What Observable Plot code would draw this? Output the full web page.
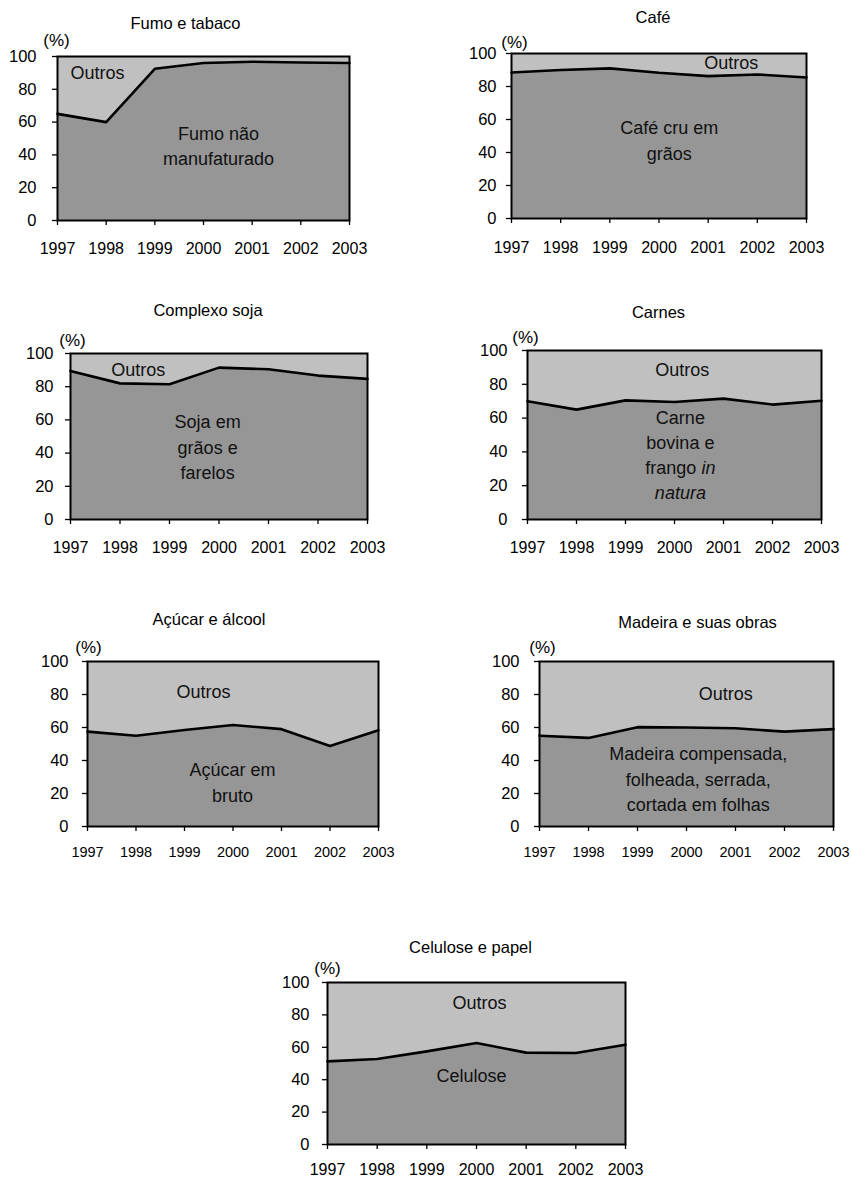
<!DOCTYPE html>
<html><head><meta charset="utf-8">
<script src="https://cdn.jsdelivr.net/npm/d3@7"></script>
<script src="https://cdn.jsdelivr.net/npm/@observablehq/plot@0.6"></script>
<style>
body{margin:0;background:#fff;overflow:hidden}
#root{position:relative;width:852px;height:1180px;font-family:"Liberation Sans",Arial,sans-serif}
#root svg{position:absolute}
</style></head>
<body><div id="root"></div>
<script>
const years = [1997, 1998, 1999, 2000, 2001, 2002, 2003];
const yTicks = [0, 20, 40, 60, 80, 100];

// share (%) of the main product in each group
const fumo     = [65, 60, 92.5, 96, 96.8, 96.3, 96];
const cafe     = [88.5, 90, 91, 88.3, 86.3, 87.3, 85.5];
const soja     = [89.5, 82, 81.5, 91.5, 90.5, 86.7, 84.7];
const carnes   = [70, 65, 70.5, 69.5, 71.5, 68, 70.3];
const acucar   = [57.5, 55, 58.5, 61.5, 59, 48.8, 58.3];
const madeira  = [55, 53.7, 60.2, 60, 59.5, 57.5, 59];
const celulose = [51.3, 52.8, 57.5, 62.7, 56.7, 56.5, 61.6];

const titles = ["Fumo e tabaco", "Café", "Complexo soja", "Carnes", "Açúcar e álcool", "Madeira e suas obras", "Celulose e papel"];
const otherLabel = "Outros";
const mainLabels = [
  "Fumo não\nmanufaturado",
  "Café cru em\ngrãos",
  "Soja em\ngrãos e\nfarelos",
  null,
  "Açúcar em\nbruto",
  "Madeira compensada,\nfolheada, serrada,\ncortada em folhas",
  "Celulose"
];
const carnesLines = ["Carne", "bovina e", "frango", "in", "natura"];

const FONT = '"Liberation Sans", Arial, sans-serif';

const panels = [
  {values: fumo, frame: [57, 56, 349, 220], tdx: -18, tdy: -33, pdx: -1, pdy: -16, yPad: 16, xPad: 17, xFont: 16,
   outros: [1997.82, 89.6], main: [2000.31, 46.3], lh: 1.4},
  {values: cafe, frame: [511, 53, 806, 218], tdx: -6, tdy: -36, pdx: 3, pdy: -11, yPad: 10, xPad: 18, xFont: 16,
   outros: [2001.47, 93.9], main: [2000.21, 48.5], lh: 1.45},
  {values: soja, frame: [70, 353, 367, 519], tdx: -11, tdy: -43, pdx: 2, pdy: -13, yPad: 12, xPad: 17, xFont: 16,
   outros: [1998.37, 89.8], main: [1999.77, 44.6], lh: 1.42},
  {values: carnes, frame: [527, 350, 821, 519], tdx: -16, tdy: -38, pdx: -2, pdy: -13, yPad: 15, xPad: 17, xFont: 16,
   outros: [2000.16, 88.2], main: [2000.12, 37.6], lh: 1.4},
  {values: acucar, frame: [87, 661, 378, 826], tdx: -24, tdy: -42, pdx: 1, pdy: -14, yPad: 14, xPad: 15, xFont: 14.5,
   outros: [1999.39, 81.2], main: [1999.99, 27.9], lh: 1.45},
  {values: madeira, frame: [539, 661, 833, 826], tdx: 11, tdy: -39, pdx: 3, pdy: -14, yPad: 15, xPad: 15, xFont: 14.5,
   outros: [2000.8, 80], main: [2000.24, 29.7], lh: 1.4},
  {values: celulose, frame: [327, 982, 625, 1144], tdx: -6, tdy: -35, pdx: 0, pdy: -14, yPad: 13, xPad: 14, xFont: 16,
   outros: [2000.06, 87], main: [1999.9, 43.8], lh: 1.4}
];

const root = document.getElementById("root");

panels.forEach((cfg, idx) => {
  const ML = 60, MT = 55, MR = 22;
  const [l, t, r, b] = cfg.frame;
  const MB = Math.min(40, 1180 - b);
  const data = years.map((yr, i) => ({year: yr, v: cfg.values[i]}));
  const labelMarks = [
    Plot.text([{x: cfg.outros[0], y: cfg.outros[1], text: otherLabel}], {x: "x", y: "y", text: "text", fontSize: 18, fill: "#111"})
  ];
  if (mainLabels[idx]) {
    labelMarks.push(Plot.text([{x: cfg.main[0], y: cfg.main[1], text: mainLabels[idx]}],
      {x: "x", y: "y", text: "text", fontSize: 18, lineHeight: cfg.lh, lineAnchor: "middle", fill: "#111"}));
  } else {
    const pt = [{x: cfg.main[0], y: cfg.main[1]}];
    const sp = 25;
    const spec = [
      {t: carnesLines[0], dy: -1.5 * sp, dx: 0, a: "middle", it: false},
      {t: carnesLines[1], dy: -0.5 * sp, dx: 0, a: "middle", it: false},
      {t: carnesLines[2], dy: 0.5 * sp, dx: 16, a: "end", it: false},
      {t: carnesLines[3], dy: 0.5 * sp, dx: 21, a: "start", it: true},
      {t: carnesLines[4], dy: 1.5 * sp, dx: 0, a: "middle", it: true}
    ];
    spec.forEach(s => labelMarks.push(Plot.text(pt, {x: "x", y: "y", text: () => s.t, dx: s.dx, dy: s.dy,
      textAnchor: s.a, fontStyle: s.it ? "italic" : "normal", fontSize: 18, fill: "#111"})));
  }
  const svg = Plot.plot({
    width: r - l + ML + MR,
    height: b - t + MT + MB,
    marginLeft: ML, marginTop: MT, marginRight: MR, marginBottom: MB,
    x: {domain: [1997, 2003]},
    y: {domain: [0, 100]},
    style: {fontFamily: FONT, fontSize: "16px", color: "#000", background: "transparent", overflow: "visible"},
    marks: [
      Plot.areaY(data, {x: "year", y1: 0, y2: "v", fill: "#969696"}),
      Plot.areaY(data, {x: "year", y1: "v", y2: 100, fill: "#c0c0c0"}),
      Plot.lineY(data, {x: "year", y: "v", stroke: "#000", strokeWidth: 2.6}),
      Plot.frame({stroke: "#000", strokeWidth: 2}),
      Plot.axisY({ticks: yTicks, tickSize: 5, tickPadding: cfg.yPad, fontSize: 16.5, strokeWidth: 1.3, label: null}),
      Plot.axisX({ticks: years, tickFormat: d => String(d), tickSize: 5, tickPadding: cfg.xPad, fontSize: cfg.xFont, strokeWidth: 1.3, label: null}),
      Plot.text([titles[idx]], {text: d => d, frameAnchor: "top", dx: cfg.tdx, dy: cfg.tdy, fontSize: 16.5, lineAnchor: "middle"}),
      Plot.text(["(%)"], {text: d => d, frameAnchor: "top-left", dx: cfg.pdx, dy: cfg.pdy, fontSize: 17, textAnchor: "middle", lineAnchor: "middle"}),
      ...labelMarks
    ]
  });
  svg.style.left = (l - ML) + "px";
  svg.style.top = (t - MT) + "px";
  root.appendChild(svg);
});
</script>
</body></html>
